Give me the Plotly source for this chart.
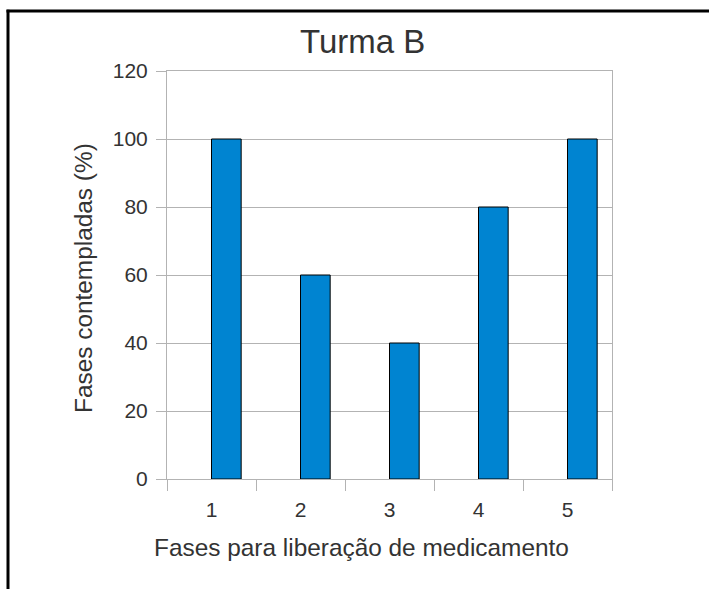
import plotly.graph_objects as go

categories = ["1", "2", "3", "4", "5"]
values = [100, 60, 40, 80, 100]
y_ticks = [0, 20, 40, 60, 80, 100, 120]

title_text = "Turma B"
x_title = "Fases para liberação de medicamento"
y_title = "Fases contempladas (%)"

FONT = "Liberation Sans, Arial, sans-serif"
TEXT = "#333333"
GRID = "#b3b3b3"

fig = go.Figure()
fig.add_trace(go.Bar(
    x=categories, y=values,
    width=1/3, offset=0,
    marker=dict(color="#0084d1", line=dict(color="#000000", width=1)),
))

fig.update_layout(
    width=709, height=589,
    margin=dict(l=167, r=97, t=71, b=110),
    paper_bgcolor="white", plot_bgcolor="white",
    showlegend=False,
    font=dict(family=FONT, color=TEXT, size=21),
    xaxis=dict(
        type="category", range=[-0.5, 4.5], tickson="boundaries",
        ticks="outside", ticklen=11, tickcolor=GRID, tickwidth=1,
        showgrid=False, showline=True, linecolor=GRID, linewidth=1, mirror=True,
        tickfont=dict(size=21, color=TEXT), ticklabelstandoff=12,
    ),
    yaxis=dict(
        range=[0, 120], tickvals=y_ticks,
        ticks="outside", ticklen=10, tickcolor=GRID, tickwidth=1,
        showgrid=True, gridcolor=GRID, gridwidth=1,
        showline=True, linecolor=GRID, linewidth=1, mirror=True,
        zeroline=False, tickfont=dict(size=21, color=TEXT), ticklabelstandoff=4,
    ),
    annotations=[
        dict(text=title_text, xref="paper", yref="paper", x=0.4393, y=1.0735,
             xanchor="center", yanchor="middle", showarrow=False,
             font=dict(size=33, color=TEXT, family=FONT)),
        dict(text=x_title, xref="paper", yref="paper", x=0.437, y=-0.1667,
             xanchor="center", yanchor="middle", showarrow=False,
             font=dict(size=24.4, color=TEXT, family=FONT)),
        dict(text=y_title, xref="paper", yref="paper", x=-0.1888, y=0.4926,
             xanchor="center", yanchor="middle", showarrow=False, textangle=-90,
             font=dict(size=24.4, color=TEXT, family=FONT)),
    ],
    shapes=[
        dict(type="line", xref="paper", yref="paper",
             x0=-0.3607, x1=1.2181, y0=1.147, y1=1.147,
             line=dict(color="black", width=3), layer="above"),
        dict(type="line", xref="paper", yref="paper",
             x0=-0.3573, x1=-0.3573, y0=1.15, y1=-0.2735,
             line=dict(color="black", width=3), layer="above"),
    ],
)

fig.write_html(
    "out.html",
    config={"displayModeBar": False},
    post_script="document.body.style.margin='0';document.body.style.overflow='hidden';",
)
